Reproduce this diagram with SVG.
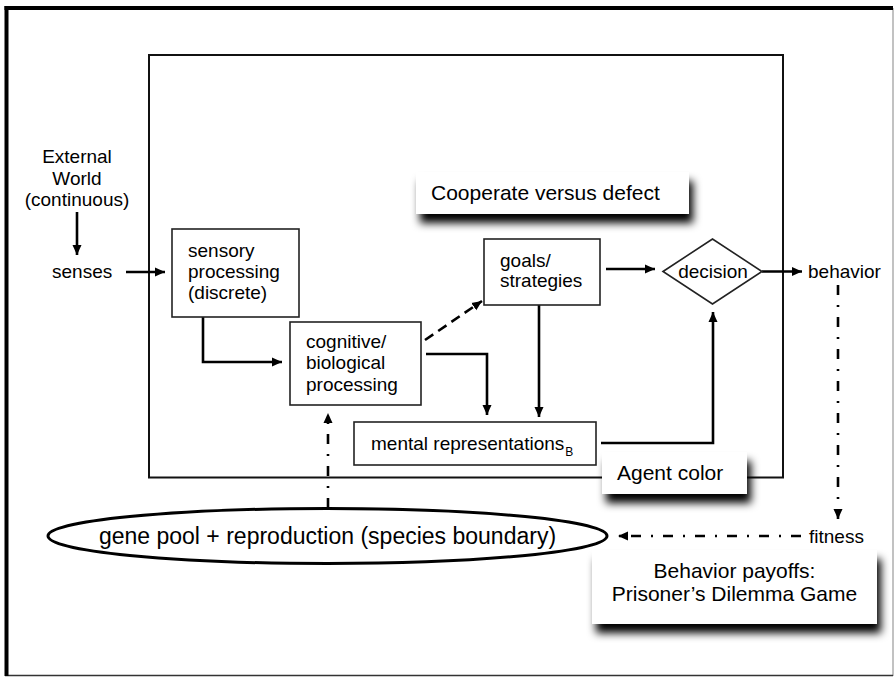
<svg xmlns="http://www.w3.org/2000/svg" width="895" height="677" viewBox="0 0 895 677">
<style>
text{font-family:"Liberation Sans",Arial,sans-serif;fill:#000;}
.n{font-size:19px;}
.s{font-size:21px;}
.box{fill:#fff;stroke:#222;stroke-width:1.6;}
.sbox{fill:#fff;stroke:none;}
.c{fill:none;stroke:#000;stroke-width:2.6;}
.dash{stroke-dasharray:10 6;}
.dd{stroke-dasharray:10 10 2 10;}
</style>
<defs>
<marker id="ah" markerUnits="userSpaceOnUse" markerWidth="11" markerHeight="10" refX="10" refY="5" orient="auto">
<path d="M0,0.5 L10,5 L0,9.5 z" fill="#000"/>
</marker>
<filter id="sh" x="-10%" y="-30%" width="125%" height="190%">
<feGaussianBlur in="SourceAlpha" stdDeviation="4"/>
<feOffset dx="4" dy="9" result="b"/>
<feComponentTransfer><feFuncA type="linear" slope="1"/></feComponentTransfer>
<feMerge><feMergeNode/><feMergeNode in="SourceGraphic"/></feMerge>
</filter>
</defs>
<rect width="895" height="677" fill="#fff"/>
<g id="frame">
<line x1="893" y1="8" x2="893" y2="676" stroke="#999" stroke-width="1.2"/>
<line x1="5" y1="675.5" x2="893" y2="675.5" stroke="#333" stroke-width="1.5"/>
<line x1="4.5" y1="8" x2="893" y2="8" stroke="#000" stroke-width="4"/>
<line x1="6.5" y1="6" x2="6.5" y2="676" stroke="#000" stroke-width="4"/>
</g>
<g id="agent-boundary">
<rect x="149" y="55" width="634" height="422.5" fill="none" stroke="#111" stroke-width="2"/>
</g>
<g id="connectors">
<path class="c" d="M77,212 V255" marker-end="url(#ah)"/>
<path class="c" d="M126,272 H165" marker-end="url(#ah)"/>
<path class="c" d="M203,317 V362 H282" marker-end="url(#ah)"/>
<path class="c dash" d="M425,340 L482,301" marker-end="url(#ah)"/>
<path class="c" d="M426,354 H487 V415" marker-end="url(#ah)"/>
<path class="c" d="M539,305 V417" marker-end="url(#ah)"/>
<path class="c" d="M606,269 H655" marker-end="url(#ah)"/>
<path class="c" d="M762,271.5 H802" marker-end="url(#ah)"/>
<path class="c" d="M601,443 H713 V312" marker-end="url(#ah)"/>
<path class="c dd" d="M328,508 V413" marker-end="url(#ah)"/>
<path class="c dd" d="M838,285 V519" marker-end="url(#ah)"/>
<path class="c dd" d="M801,536 H618" marker-end="url(#ah)"/>
</g>
<g id="external-world">
<text class="n" x="77" y="163" text-anchor="middle">External</text>
<text class="n" x="77" y="185" text-anchor="middle">World</text>
<text class="n" x="77" y="206" text-anchor="middle">(continuous)</text>
</g>
<g id="senses"><text class="n" x="52" y="278">senses</text></g>
<g id="sensory-processing">
<rect class="box" x="172" y="229" width="127" height="88"/>
<text class="n" x="188" y="257">sensory</text>
<text class="n" x="188" y="278">processing</text>
<text class="n" x="188" y="299">(discrete)</text>
</g>
<g id="cognitive-processing">
<rect class="box" x="290" y="322" width="131" height="83"/>
<text class="n" x="306" y="348">cognitive/</text>
<text class="n" x="306" y="369">biological</text>
<text class="n" x="306" y="391">processing</text>
</g>
<g id="goals-strategies">
<rect class="box" x="484" y="239" width="116" height="66"/>
<text class="n" x="500" y="267">goals/</text>
<text class="n" x="500" y="287">strategies</text>
</g>
<g id="decision">
<polygon class="box" points="663,271.5 712.5,239 762,271.5 712.5,304"/>
<text class="n" x="713" y="278" text-anchor="middle">decision</text>
</g>
<g id="behavior"><text class="n" x="808" y="278">behavior</text></g>
<g id="mental-representations">
<rect class="box" x="354" y="422" width="242" height="43"/>
<text class="n" x="371" y="450">mental representations<tspan font-size="12" dx="1" dy="6">B</tspan></text>
</g>
<g id="cooperate-label">
<rect class="sbox" x="416" y="172" width="273" height="42" filter="url(#sh)"/>
<text class="s" x="431" y="200">Cooperate versus defect</text>
</g>
<g id="agent-color-label">
<rect class="sbox" x="602" y="452" width="145" height="42" filter="url(#sh)"/>
<text class="s" x="617" y="480">Agent color</text>
</g>
<g id="gene-pool">
<ellipse cx="327.5" cy="536" rx="279.5" ry="27.5" fill="#fff" stroke="#000" stroke-width="3"/>
<text x="327.5" y="544" text-anchor="middle" font-size="23">gene pool + reproduction (species boundary)</text>
</g>
<g id="fitness"><text class="n" x="809" y="543">fitness</text></g>
<g id="payoffs-label">
<rect class="sbox" x="592" y="550" width="285" height="74" filter="url(#sh)"/>
<text class="s" x="734.5" y="578" text-anchor="middle">Behavior payoffs:</text>
<text class="s" x="734.5" y="601" text-anchor="middle">Prisoner’s Dilemma Game</text>
</g>
</svg>
